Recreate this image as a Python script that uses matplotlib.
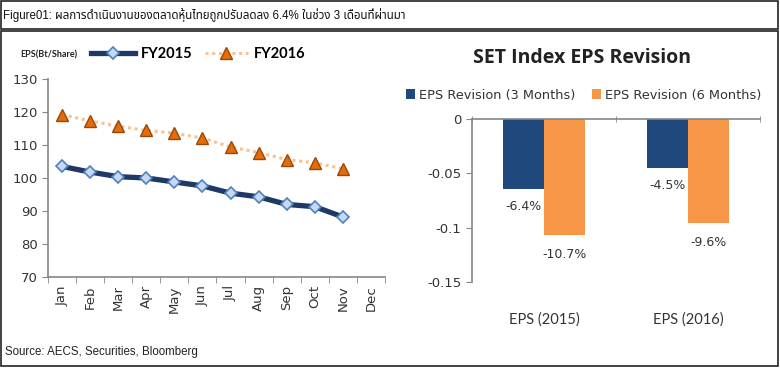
import matplotlib
matplotlib.use("Agg")
import matplotlib.pyplot as plt
from matplotlib.patches import Rectangle
from matplotlib.ticker import FixedLocator

# data
months = ["Jan", "Feb", "Mar", "Apr", "May", "Jun", "Jul", "Aug", "Sep", "Oct", "Nov", "Dec"]
eps_fy2015 = [103.5, 101.8, 100.4, 100.0, 98.8, 97.6, 95.4, 94.3, 92.0, 91.3, 88.2]
eps_fy2016 = [119.2, 117.3, 115.7, 114.4, 113.6, 112.1, 109.4, 107.7, 105.6, 104.6, 102.8]

bar_groups = ["EPS (2015)", "EPS (2016)"]
rev_3m = [-0.064, -0.045]
rev_6m = [-0.107, -0.096]
rev_3m_lbl = ["-6.4%", "-4.5%"]
rev_6m_lbl = ["-10.7%", "-9.6%"]

title_text = "Figure01: ผลการดำเนินงานของตลาดหุ้นไทยถูกปรับลดลง 6.4% ในช่วง 3 เดือนที่ผ่านมา"
source_text = "Source: AECS, Securities, Bloomberg"

NAVY = "#1f3864"
ORANGE_BAR = "#f79646"
BLUE_BAR = "#1f497d"
GRID = "#868686"
TXT = "#333333"

plt.rcParams["font.family"] = ["DejaVu Sans"]
thai = ["Liberation Sans", "Noto Sans Thai", "DejaVu Sans"]

fig = plt.figure(figsize=(7.8, 3.68), dpi=100)
W, H = 780, 368

# frames around title and body
fig.patches.append(Rectangle((1 / W, 1 - 29 / H), 777 / W, 28 / H, transform=fig.transFigure,
                             fill=False, ec="#222222", lw=1.2))
fig.patches.append(Rectangle((1 / W, 1 - 366 / H), 777 / W, 335 / H, transform=fig.transFigure,
                             fill=False, ec="#222222", lw=1.2))
fig.text(3 / W, 1 - 15 / H, title_text, family=thai, fontsize=8.3, va="center", color="#111111")
fig.text(5 / W, 1 - 352 / H, source_text, family=["Liberation Sans"], fontsize=8.3, va="center",
         color="#222222")

# ---- left: line chart
ax1 = fig.add_axes([48 / W, 1 - 277 / H, 337 / W, 198 / H])
x = range(len(months))
ax1.plot(range(len(eps_fy2015)), eps_fy2015, color=NAVY, lw=3.8, marker="D", ms=6,
         mfc="#c6d9f1", mec="#4f81bd", mew=1.2, label="FY2015", zorder=3)
ax1.plot(range(len(eps_fy2016)), eps_fy2016, color="#fac090", lw=2.2, ls=(0, (1, 1.2)),
         marker="^", ms=8, mfc="#e46c0a", mec="#984807", mew=1, label="FY2016", zorder=3)
ax1.set_xlim(-0.5, len(months) - 0.5)
ax1.set_ylim(70, 130)
ax1.set_yticks(range(70, 131, 10))
ax1.set_xticks(list(x))
ax1.set_xticklabels(months, rotation=90, fontsize=9.5, color=TXT)
ax1.xaxis.set_minor_locator(FixedLocator([i - 0.5 for i in range(len(months) + 1)]))
ax1.tick_params(axis="x", which="major", length=0, pad=6)
ax1.tick_params(axis="x", which="minor", length=4, color=GRID)
ax1.tick_params(axis="y", length=4, color=GRID, labelsize=9.5, labelcolor=TXT)
for s in ["top", "right"]:
    ax1.spines[s].set_visible(False)
for s in ["left", "bottom"]:
    ax1.spines[s].set_color(GRID)
    ax1.spines[s].set_linewidth(1.2)

fig.text(20 / W, 1 - 55 / H, "EPS(Bt/Share)", fontsize=6.5, fontweight="bold", va="center",
         family=["Lato", "DejaVu Sans"], color="#222222")
h1, l1 = ax1.get_legend_handles_labels()
fig.legend(h1, l1, loc="center left", bbox_to_anchor=(91 / W, 1 - 54 / H), ncol=2, frameon=False,
           prop={"family": "Lato", "weight": "bold", "size": 10.5}, handlelength=3,
           handletextpad=0.4, columnspacing=0.85, borderpad=0, borderaxespad=0)

# ---- right: bar chart
ax2 = fig.add_axes([472 / W, 1 - 282 / H, 288 / W, 163 / H])
bw = 0.285
xs = range(len(bar_groups))
ax2.bar([i - bw / 2 for i in xs], rev_3m, width=bw, color=BLUE_BAR, label="EPS Revision (3 Months)")
ax2.bar([i + bw / 2 for i in xs], rev_6m, width=bw, color=ORANGE_BAR, label="EPS Revision (6 Months)")
for i in xs:
    ax2.annotate(rev_3m_lbl[i], (i - bw / 2, rev_3m[i]), xytext=(0, -13), textcoords="offset points",
                 ha="center", va="center", fontsize=9, color=TXT)
    ax2.annotate(rev_6m_lbl[i], (i + bw / 2, rev_6m[i]), xytext=(0, -14), textcoords="offset points",
                 ha="center", va="center", fontsize=9, color=TXT)
ax2.set_xlim(-0.5, len(bar_groups) - 0.5)
ax2.set_ylim(-0.15, 0)
ax2.set_yticks([-0.15, -0.1, -0.05, 0])
ax2.set_yticklabels(["-0.15", "-0.1", "-0.05", "0"])
ax2.set_xticks(list(xs))
ax2.set_xticklabels(bar_groups, family="Lato", fontsize=10.5, color=TXT)
ax2.xaxis.set_minor_locator(FixedLocator([i - 0.5 for i in range(len(bar_groups) + 1)]))
ax2.tick_params(axis="x", which="major", length=0, pad=22)
ax2.tick_params(axis="x", which="minor", bottom=False, top=True, direction="inout", length=5, color=GRID)
ax2.tick_params(axis="y", length=4, color=GRID, labelsize=9.5, labelcolor=TXT)
for s in ["bottom", "right"]:
    ax2.spines[s].set_visible(False)
for s in ["left", "top"]:
    ax2.spines[s].set_color(GRID)
    ax2.spines[s].set_linewidth(1.2)

fig.text(582 / W, 1 - 58 / H, "SET Index EPS Revision", family="Open Sans", fontweight="bold",
         fontsize=14, ha="center", va="center", color="#222222")
h2, l2 = ax2.get_legend_handles_labels()
fig.legend(h2, l2, loc="center left", bbox_to_anchor=(406 / W, 1 - 95 / H), ncol=2, frameon=False,
           fontsize=9.3, handlelength=0.7, handleheight=0.7, handletextpad=0.3, columnspacing=1.3,
           borderpad=0, borderaxespad=0, labelcolor=TXT)

fig.savefig("out.png", dpi=100)
